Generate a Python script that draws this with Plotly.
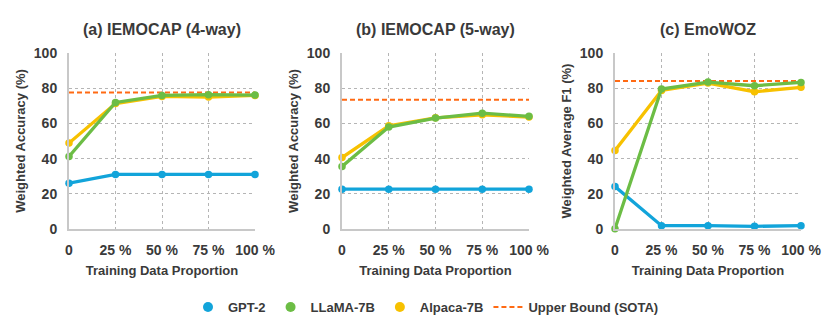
import plotly.graph_objects as go
from plotly.subplots import make_subplots

# data
proportions = ["0", "25 %", "50 %", "75 %", "100 %"]
panel_titles = ["(a) IEMOCAP (4-way)", "(b) IEMOCAP (5-way)", "(c) EmoWOZ"]
y_titles = ["Weighted Accuracy (%)", "Weighted Accuracy (%)", "Weighted Average F1 (%)"]

gpt2 = [
    [26, 31, 31, 31, 31],
    [22.6, 22.6, 22.6, 22.6, 22.6],
    [24.1, 1.9, 1.9, 1.5, 1.9],
]
llama = [
    [41.2, 71.9, 75.9, 76.3, 76.1],
    [35.5, 57.9, 63.0, 65.8, 64.0],
    [0.2, 79.5, 83.5, 81.4, 83.3],
]
alpaca = [
    [48.8, 71.3, 75.3, 75.0, 75.9],
    [40.6, 58.6, 63.2, 64.9, 63.6],
    [44.6, 78.7, 82.9, 78.0, 80.5],
]
sota = [77.6, 73.4, 84.1]

BLUE = "#12A4DA"
GREEN = "#6CBD45"
YELLOW = "#F7C100"
ORANGE = "#FF6A13"
TXT = "#3a3a3a"
FONT = "Liberation Sans"

# the page body has an 8px margin, so the figure is 8px smaller
W, H = 822, 320

x = list(range(len(proportions)))

fig = make_subplots(rows=1, cols=3)

x_domains = [[61 / W, 247 / W], [334 / W, 521 / W], [607 / W, 793 / W]]
y_domain = [1 - 221 / H, 1 - 45 / H]

for i in range(3):
    c = i + 1
    fig.add_trace(go.Scatter(x=[x[0], x[-1]], y=[sota[i], sota[i]], mode="lines",
                             line=dict(color=ORANGE, width=2, dash="5px,3px"),
                             showlegend=False, hoverinfo="skip"), row=1, col=c)
    for vals, col, name in [(gpt2, BLUE, "GPT-2"), (alpaca, YELLOW, "Alpaca-7B"), (llama, GREEN, "LLaMA-7B")]:
        fig.add_trace(go.Scatter(x=x, y=vals[i], mode="lines+markers", name=name,
                                 line=dict(color=col, width=3.3),
                                 marker=dict(color=col, size=7.5),
                                 cliponaxis=False, showlegend=False), row=1, col=c)

    fig.update_xaxes(domain=x_domains[i], range=[0, 4], tickvals=x, ticktext=proportions,
                     automargin=False,
                     showgrid=True, gridcolor="#b5b5b5", griddash="dot", gridwidth=1,
                     showline=True, linecolor="#c8c8c8", linewidth=2,
                     zeroline=False, ticks="", ticklabelstandoff=7,
                     tickfont=dict(family=FONT, size=14, color=TXT, weight="bold"),
                     title=dict(text="Training Data Proportion", standoff=9,
                                font=dict(family=FONT, size=13, color=TXT, weight="bold")),
                     row=1, col=c)
    fig.update_yaxes(domain=y_domain, range=[0, 100], dtick=20,
                     automargin=False,
                     showgrid=True, gridcolor="#b5b5b5", griddash="dot", gridwidth=1,
                     showline=True, linecolor="#c8c8c8", linewidth=2,
                     zeroline=False, ticks="", ticklabelstandoff=7,
                     tickfont=dict(family=FONT, size=14, color=TXT, weight="bold"),
                     title=dict(text=y_titles[i], standoff=5,
                                font=dict(family=FONT, size=13, color=TXT, weight="bold")),
                     row=1, col=c)
    fig.add_annotation(text=panel_titles[i], xref="paper", yref="paper",
                       x=sum(x_domains[i]) / 2, y=1 - 22 / H, xanchor="center", yanchor="middle",
                       showarrow=False, font=dict(family=FONT, size=16, color=TXT, weight="bold"))

# legend-only entries
for name, col in [("GPT-2", BLUE), ("LLaMA-7B", GREEN), ("Alpaca-7B", YELLOW)]:
    fig.add_trace(go.Scatter(x=[None], y=[None], mode="markers", name=name,
                             marker=dict(color=col, size=10)), row=1, col=1)
fig.add_trace(go.Scatter(x=[None], y=[None], mode="lines", name="Upper Bound (SOTA)",
                         line=dict(color=ORANGE, width=2, dash="5px,3px")), row=1, col=1)

fig.update_layout(
    width=W, height=H,
    margin=dict(l=0, r=0, t=0, b=0, autoexpand=False),
    plot_bgcolor="white", paper_bgcolor="white",
    font=dict(family=FONT, color=TXT),
    legend=dict(orientation="h", x=418 / W, xanchor="center", y=1 - 299 / H, yanchor="middle",
                font=dict(family=FONT, size=13, color=TXT, weight="bold"),
                itemwidth=30, traceorder="normal"),
)

fig.write_html("out.html")
